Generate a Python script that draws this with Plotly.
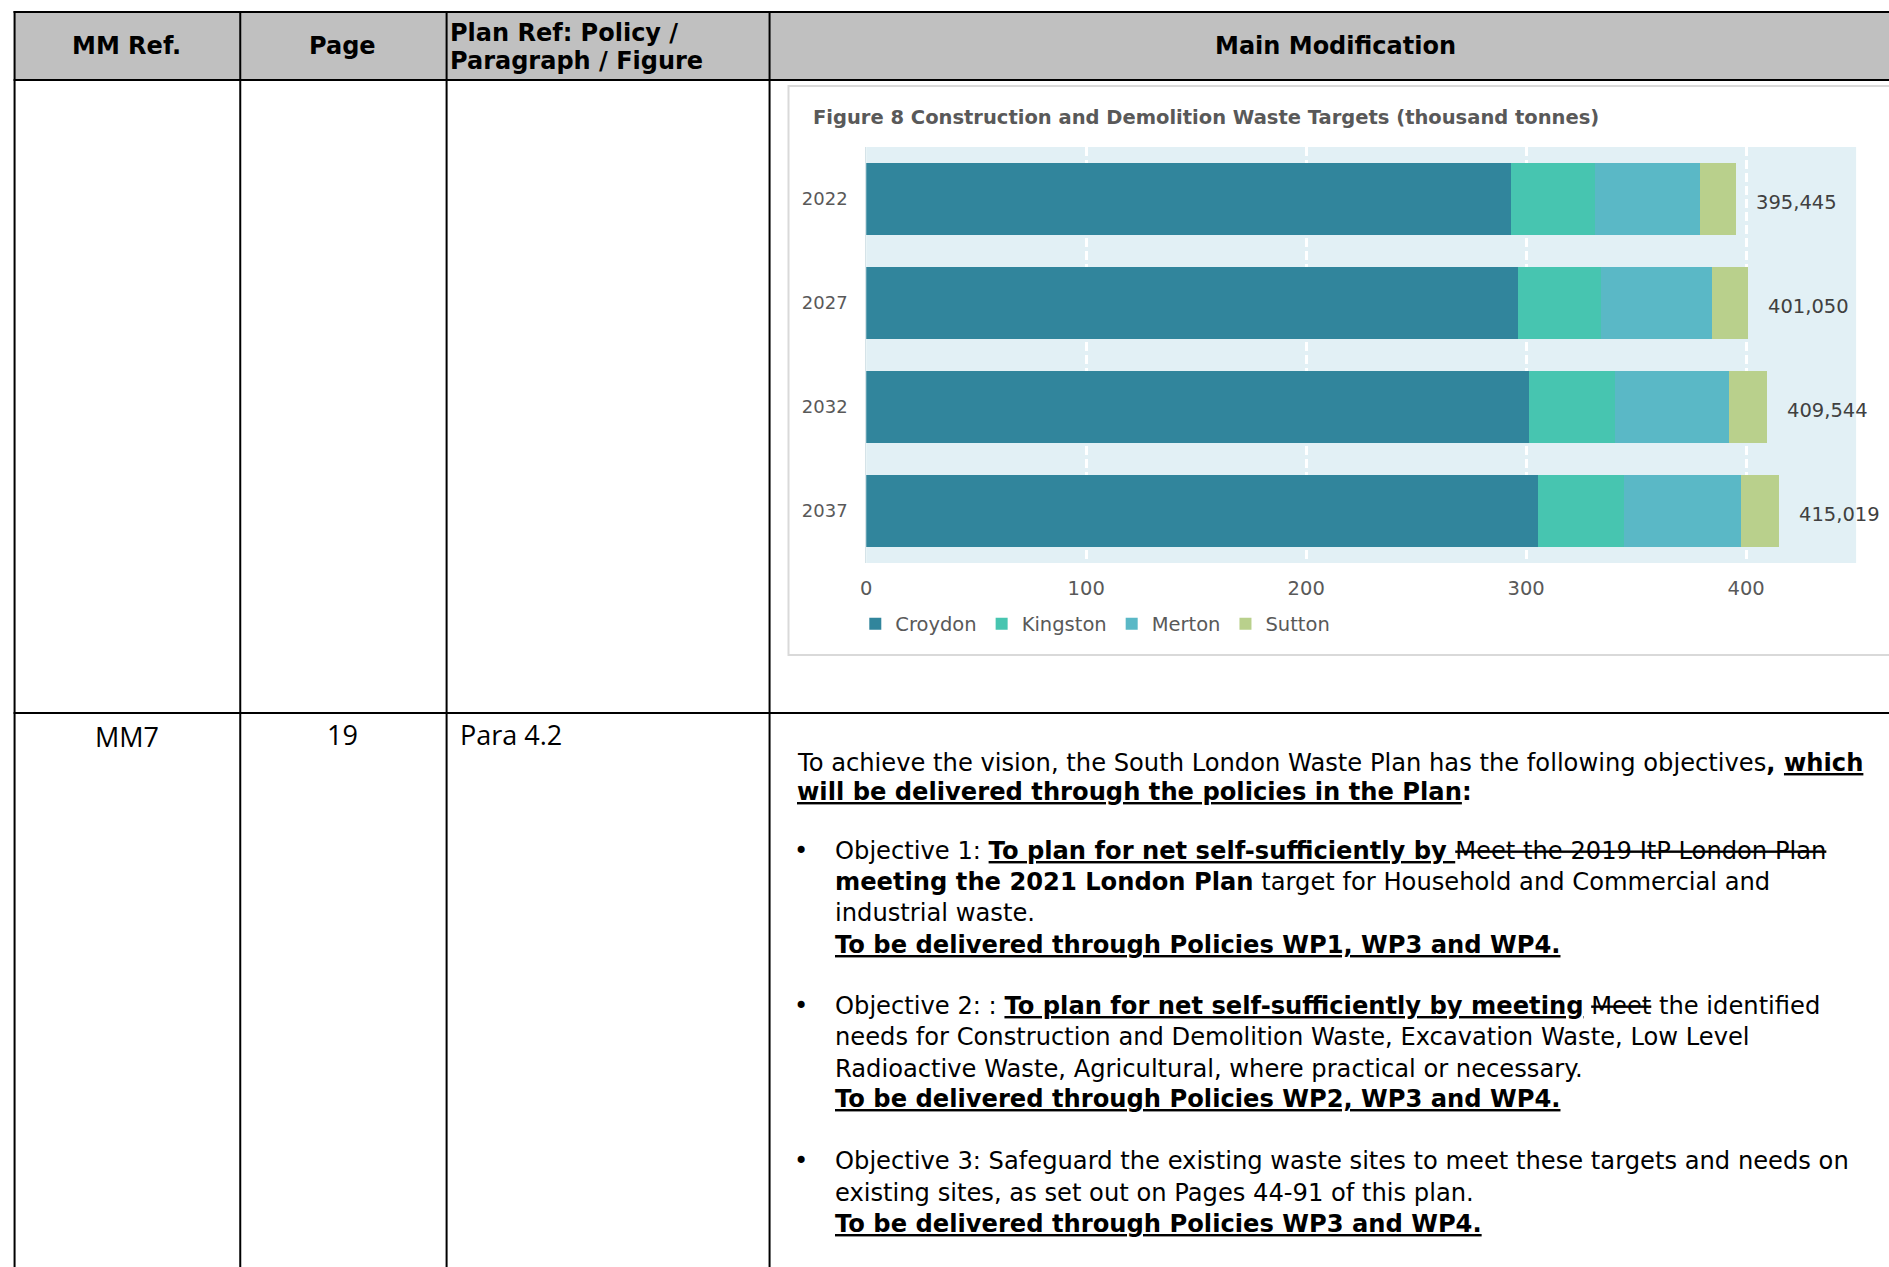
import plotly.graph_objects as go

# ---------------- data ----------------
years = ["2022", "2027", "2032", "2037"]
croydon = [293.2, 296.4, 301.2, 305.3]
kingston = [38.2, 37.7, 39.1, 39.3]
merton = [47.8, 50.3, 52.1, 53.3]
sutton = [16.2, 16.6, 17.1, 17.1]
total_labels = ["395,445", "401,050", "409,544", "415,019"]
x_ticks = [0, 100, 200, 300, 400]
series_names = ["Croydon", "Kingston", "Merton", "Sutton"]
series_colors = ["#31859C", "#47C5B0", "#5AB8C6", "#B9D08C"]

chart_title = "Figure 8 Construction and Demolition Waste Targets (thousand tonnes)"
header_cells = ["MM Ref.", "Page", "Main Modification"]
plan_ref_header = ["Plan Ref: Policy /", "Paragraph / Figure"]
row2_cells = ["MM7", "19", "Para 4.2"]
body_lines = [
    "To achieve the vision, the South London Waste Plan has the following objectives<b>, <u>which</u></b>",
    "<b><u>will be delivered through the policies in the Plan</u>:</b>",
    "Objective 1: <b><u>To plan for net self-sufficiently by </u></b><s>Meet the 2019 ItP London Plan</s>",
    "<b>meeting the 2021 London Plan</b> target for Household and Commercial and",
    "industrial waste.",
    "<b><u>To be delivered through Policies WP1, WP3 and WP4.</u></b>",
    "Objective 2: : <b><u>To plan for net self-sufficiently by meeting</u></b> <s>Meet</s> the identified",
    "needs for Construction and Demolition Waste, Excavation Waste, Low Level",
    "Radioactive Waste, Agricultural, where practical or necessary.",
    "<b><u>To be delivered through Policies WP2, WP3 and WP4.</u></b>",
    "Objective 3: Safeguard the existing waste sites to meet these targets and needs on",
    "existing sites, as set out on Pages 44-91 of this plan.",
    "<b><u>To be delivered through Policies WP3 and WP4.</u></b>",
]
bullet_line_idx = [2, 6, 10]

# ---------------- layout helpers ----------------
W, H = 1889, 1267


def px(x):
    return x / W


def py(y):
    return 1 - y / H


totals = [float(t.replace(",", "")) / 1000.0 for t in total_labels]

fig = go.Figure()
for name, vals, col in zip(series_names, [croydon, kingston, merton, sutton], series_colors):
    fig.add_trace(go.Bar(
        y=years, x=vals, name=name, orientation="h",
        marker=dict(color=col, line=dict(width=0)),
        hoverinfo="skip",
    ))

annotations = []
# data labels for totals (category axis: position by category index)
for i, (tot, lab) in enumerate(zip(totals, total_labels)):
    annotations.append(dict(
        x=tot, y=i, xref="x", yref="y", text=lab, showarrow=False,
        xanchor="left", yanchor="middle", xshift=18, yshift=-3,
        font=dict(family="DejaVu Sans", size=19.5, color="#404040"),
    ))

# chart title
annotations.append(dict(
    x=px(808), y=py(117), xref="paper", yref="paper", text="<b>" + chart_title + "</b>",
    showarrow=False, xanchor="left", yanchor="middle",
    font=dict(family="DejaVu Sans", size=19.5, color="#595959"),
))

hfont = dict(family="DejaVu Sans", size=24, color="#000000")
# header cells
for txt, cx in zip(header_cells, [121, 338, 1334]):
    annotations.append(dict(
        x=px(cx), y=py(46), xref="paper", yref="paper", text="<b>" + txt + "</b>",
        showarrow=False, xanchor="center", yanchor="middle", font=hfont,
    ))
for txt, cy in zip(plan_ref_header, [32.5, 61.4]):
    annotations.append(dict(
        x=px(443), y=py(cy), xref="paper", yref="paper", text="<b>" + txt + "</b>",
        showarrow=False, xanchor="left", yanchor="middle", font=hfont,
    ))

# row 2 cells
rfont = dict(family="Open Sans", size=27, color="#000000")
annotations.append(dict(x=px(121), y=py(736), xref="paper", yref="paper", text=row2_cells[0],
                        showarrow=False, xanchor="center", yanchor="middle", font=rfont))
annotations.append(dict(x=px(338), y=py(734), xref="paper", yref="paper", text=row2_cells[1],
                        showarrow=False, xanchor="center", yanchor="middle", font=rfont))
annotations.append(dict(x=px(453), y=py(734), xref="paper", yref="paper", text=row2_cells[2],
                        showarrow=False, xanchor="left", yanchor="middle", font=rfont))

# body text
line_y = [762.6, 791.5, 850.5, 882, 913, 944.5, 1006, 1037, 1068.6, 1098.7, 1161, 1192.7, 1224]
bfont = dict(family="DejaVu Sans", size=24.2, color="#000000")
for i, (txt, ly) in enumerate(zip(body_lines, line_y)):
    lx = 792 if i < 2 else 830
    annotations.append(dict(x=px(lx), y=py(ly), xref="paper", yref="paper", text=txt,
                            showarrow=False, xanchor="left", yanchor="middle", font=bfont))
for i in bullet_line_idx:
    annotations.append(dict(x=px(798), y=py(line_y[i]), xref="paper", yref="paper", text="•",
                            showarrow=False, xanchor="center", yanchor="middle", font=bfont))

shapes = []
# header fill
shapes.append(dict(type="rect", xref="paper", yref="paper", x0=px(8.6), x1=px(1900),
                   y0=py(80), y1=py(12), fillcolor="#C0C0C0", line=dict(width=0), layer="below"))
# chart frame
shapes.append(dict(type="rect", xref="paper", yref="paper", x0=px(785), x1=px(1900),
                   y0=py(655), y1=py(86), fillcolor="rgba(0,0,0,0)",
                   line=dict(color="#D9D9D9", width=2), layer="below"))
# horizontal table lines
for yy in [12, 80, 713]:
    shapes.append(dict(type="line", xref="paper", yref="paper", x0=px(7.6), x1=px(1900),
                       y0=py(yy), y1=py(yy), line=dict(color="#000000", width=2.2)))
# vertical table lines
for xx in [8.6, 235, 442, 766]:
    shapes.append(dict(type="line", xref="paper", yref="paper", x0=px(xx), x1=px(xx),
                       y0=py(11), y1=py(1280), line=dict(color="#000000", width=2)))

fig.update_layout(
    width=W, height=H,
    margin=dict(l=0, r=0, t=0, b=0),
    paper_bgcolor="#FFFFFF",
    plot_bgcolor="#E2F0F5",
    barmode="stack",
    bargap=0.31,
    showlegend=True,
    legend=dict(orientation="h", x=px(852), y=py(624), xanchor="left", yanchor="middle",
                font=dict(family="DejaVu Sans", size=19.5, color="#595959"),
                itemwidth=30, traceorder="normal", bgcolor="rgba(0,0,0,0)",
                itemclick=False, itemdoubleclick=False),
    xaxis=dict(domain=[px(863), px(1856)], range=[0, 450], tickvals=x_ticks,
               showgrid=True, gridcolor="#FFFFFF", gridwidth=3, griddash="9px,4px",
               zeroline=False, showline=False,
               ticks="outside", ticklen=8, tickcolor="rgba(0,0,0,0)",
               tickfont=dict(family="DejaVu Sans", size=19.5, color="#595959"),
               fixedrange=True),
    yaxis=dict(domain=[py(563), py(147)], type="category", categoryorder="array",
               categoryarray=years, range=[3.5, -0.5], autorange=False,
               showgrid=False, zeroline=False, showline=True, linecolor="#D5E3E8", linewidth=1,
               ticks="outside", ticklen=14, tickcolor="rgba(0,0,0,0)",
               tickfont=dict(family="DejaVu Sans", size=18, color="#595959"),
               fixedrange=True),
    annotations=annotations,
    shapes=shapes,
    font=dict(family="DejaVu Sans"),
)

fig.write_html(
    "out.html",
    config={"displayModeBar": False},
    post_script="document.body.style.margin='0';document.body.style.overflow='hidden';",
)
